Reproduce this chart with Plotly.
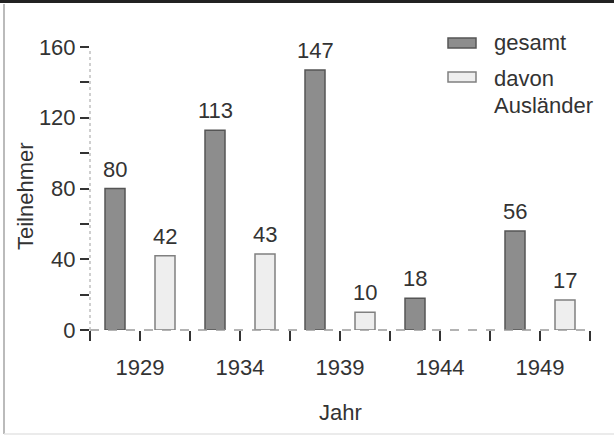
import plotly.graph_objects as go

# Teilnehmerzahlen je Jahr
jahre = [1929, 1934, 1939, 1944, 1949]
gesamt = [80, 113, 147, 18, 56]
auslaender = [42, 43, 10, None, 17]

FONT = "Liberation Sans, Arial, sans-serif"
FS = 22
TXT = "#333333"

W, H = 614, 439
ML, MR, MT, MB = 90, 24, 47, 109
PW, PH = W - ML - MR, H - MT - MB


def px_x(x):
    return (x - ML) / PW


def px_y(y):
    return (H - MB - y) / PH


fig = go.Figure()
fig.add_trace(go.Bar(
    x=jahre, y=gesamt, name="gesamt",
    marker=dict(color="#8d8d8d", line=dict(color="#555555", width=1.5)),
    showlegend=False,
))
fig.add_trace(go.Bar(
    x=jahre, y=auslaender, name="davon Ausländer",
    marker=dict(color="#eeeeee", line=dict(color="#808080", width=1.5)),
    showlegend=False,
))

annotations = []
# Wertbeschriftungen über den Balken
for series, shift in ((gesamt, -25), (auslaender, 25)):
    for j, v in zip(jahre, series):
        if v is None:
            continue
        annotations.append(dict(
            x=j, y=v, xref="x", yref="y", text=str(v), showarrow=False,
            xshift=shift, yshift=5, yanchor="bottom",
            font=dict(family=FONT, size=FS, color=TXT),
        ))

# Achsentitel
annotations.append(dict(
    x=px_x(25), y=px_y(196), xref="paper", yref="paper", text="Teilnehmer",
    xanchor="center", yanchor="middle",
    textangle=-90, showarrow=False, font=dict(family=FONT, size=FS, color=TXT),
))
annotations.append(dict(
    x=px_x(340), y=px_y(413), xref="paper", yref="paper", text="Jahr",
    xanchor="center", yanchor="middle",
    showarrow=False, font=dict(family=FONT, size=FS, color=TXT),
))

# Legende
for label, yc in (("gesamt", 42), ("davon", 78), ("Ausländer", 105)):
    annotations.append(dict(
        x=px_x(492), y=px_y(yc), xref="paper", yref="paper", text=label,
        xanchor="left", yanchor="middle", showarrow=False,
        font=dict(family=FONT, size=FS, color=TXT),
    ))

shapes = [
    # Legendensymbole
    dict(type="rect", xref="paper", yref="paper",
         x0=px_x(448), x1=px_x(476), y0=px_y(48), y1=px_y(38),
         fillcolor="#8d8d8d", line=dict(color="#555555", width=1.5)),
    dict(type="rect", xref="paper", yref="paper",
         x0=px_x(448), x1=px_x(476), y0=px_y(82), y1=px_y(72),
         fillcolor="#eeeeee", line=dict(color="#808080", width=1.5)),
    # Achsenlinien
    dict(type="line", xref="paper", yref="paper",
         x0=0, x1=1, y0=0, y1=0, line=dict(color="#9a9a9a", width=1.5, dash="dash")),
    dict(type="line", xref="paper", yref="paper",
         x0=0, x1=0, y0=0, y1=px_y(50), line=dict(color="#c0c0c0", width=1.5, dash="dot")),
    # Rahmen
    dict(type="rect", xref="paper", yref="paper",
         x0=px_x(0), x1=px_x(W), y0=px_y(3), y1=px_y(0),
         fillcolor="#222222", line=dict(width=0)),
    dict(type="line", xref="paper", yref="paper",
         x0=px_x(4), x1=px_x(4), y0=px_y(434), y1=px_y(4),
         line=dict(color="#bbbbbb", width=2)),
    dict(type="line", xref="paper", yref="paper",
         x0=px_x(4), x1=px_x(W), y0=px_y(434), y1=px_y(434),
         line=dict(color="#e4e4e4", width=1.5)),
]

fig.update_layout(
    width=W, height=H,
    margin=dict(l=ML, r=MR, t=MT, b=MB),
    paper_bgcolor="white", plot_bgcolor="white",
    barmode="group", bargap=0, bargroupgap=0.6,
    font=dict(family=FONT, size=FS, color=TXT),
    annotations=annotations, shapes=shapes,
)
fig.update_xaxes(
    range=[1926.5, 1951.5], tickvals=jahre, ticktext=[str(j) for j in jahre],
    ticks="outside", ticklen=10, tickwidth=2, tickcolor="#333333",
    minor=dict(tick0=1926.5, dtick=2.5, ticks="outside", ticklen=10,
               tickwidth=2, tickcolor="#333333"),
    showgrid=False, zeroline=False, showline=False,
    ticklabelstandoff=8, tickfont=dict(family=FONT, size=FS, color=TXT),
)
fig.update_yaxes(
    range=[0, 160], tickvals=[0, 40, 80, 120, 160],
    ticks="outside", ticklen=9, tickwidth=2, tickcolor="#333333",
    minor=dict(tickvals=[20, 60, 100, 140], ticks="outside", ticklen=9,
               tickwidth=2, tickcolor="#333333"),
    showgrid=False, zeroline=False, showline=False,
    tickfont=dict(family=FONT, size=FS, color=TXT),
)

fig.write_html("out.html")
